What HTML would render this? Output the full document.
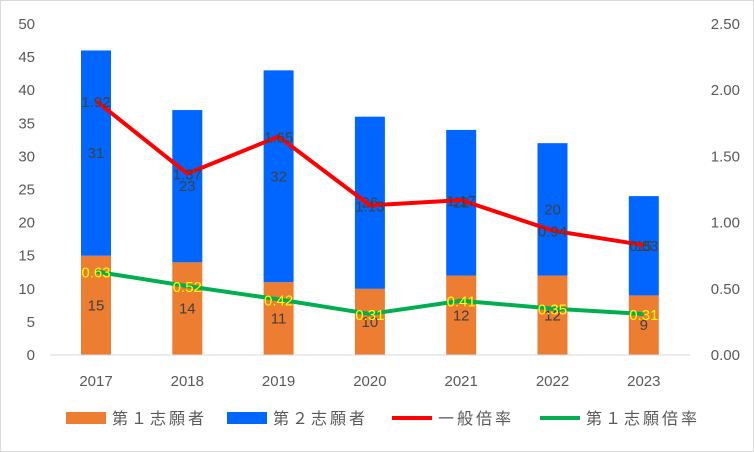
<!DOCTYPE html>
<html><head><meta charset="utf-8"><style>
body{margin:0;background:#fff}
svg{display:block;font-family:"Liberation Sans","Noto Sans CJK JP",sans-serif}
</style></head><body>
<svg id="chart" width="754" height="452">
<rect x="0.5" y="0.5" width="753" height="451" fill="#fff" stroke="#d9d9d9"/>
<g id="g"></g>
</svg>
<script>
const categories=["2017","2018","2019","2020","2021","2022","2023"];
const first=[15,14,11,10,12,12,9];
const second=[31,23,32,26,22,20,15];
const general=[1.92,1.37,1.65,1.13,1.17,0.94,0.83];
const firstRate=[0.63,0.52,0.42,0.31,0.41,0.35,0.31];
const leftTicks=[0,5,10,15,20,25,30,35,40,45,50];
const rightTicks=["0.00","0.50","1.00","1.50","2.00","2.50"];
const ns="http://www.w3.org/2000/svg",g=document.getElementById('g');
const y0=355,y1=24,x0=50,step=91.3;
const yL=v=>y0-(y0-y1)*v/50, yR=v=>y0-(y0-y1)*v/2.5, xC=i=>96+i*step;
function el(t,a,txt){const e=document.createElementNS(ns,t);for(const k in a)e.setAttribute(k,a[k]);if(txt!=null)e.textContent=txt;g.appendChild(e);return e;}
leftTicks.forEach(v=>{const e=el('text',{x:35,y:yL(v)+5,'text-anchor':'end','font-size':15,fill:'#595959'},v);

});
rightTicks.forEach(v=>{const e=el('text',{x:740,y:yR(+v)+5,'text-anchor':'end','font-size':15,fill:'#595959'},v);

});
categories.forEach((c,i)=>{
const x=xC(i),w=30;
const b1=el('rect',{x:x-w/2,y:yL(first[i]),width:w,height:y0-yL(first[i]),fill:'#ED7D31'});


const b2=el('rect',{x:x-w/2,y:yL(first[i]+second[i]),width:w,height:yL(first[i])-yL(first[i]+second[i]),fill:'#0066FF'});


const t1=el('text',{x:x,y:yL(first[i]/2)+5,'text-anchor':'middle','font-size':15,fill:'#404040'},first[i]);


const t2=el('text',{x:x,y:yL(first[i]+second[i]/2)+5,'text-anchor':'middle','font-size':15,fill:'#404040'},second[i]);


const tc=el('text',{x:x,y:386,'text-anchor':'middle','font-size':15,fill:'#595959'},c);


});
const ax=el('line',{x1:x0,x2:690,y1:y0,y2:y0,stroke:'#d9d9d9'});


const pl1=el('polyline',{points:general.map((v,i)=>xC(i)+','+yR(v)).join(' '),fill:'none',stroke:'#FF0000','stroke-width':4,'stroke-linejoin':'round'});


const pl2=el('polyline',{points:firstRate.map((v,i)=>xC(i)+','+yR(v)).join(' '),fill:'none',stroke:'#00B050','stroke-width':4,'stroke-linejoin':'round'});


general.forEach((v,i)=>{const e=el('text',{x:xC(i),y:yR(v)+6,'text-anchor':'middle','font-size':15,fill:'#404040'},v.toFixed(2));

});
firstRate.forEach((v,i)=>{const e=el('text',{x:xC(i),y:yR(v)+6,'text-anchor':'middle','font-size':15,fill:'#FFFF00'},v.toFixed(2));

});
const leg=[["rect","#ED7D31",66,"第１志願者"],["rect","#0066FF",227,"第２志願者"],["line","#FF0000",392,"一般倍率"],["line","#00B050",540,"第１志願倍率"]];
leg.forEach(l=>{
const m=l[0]=="rect"?el('rect',{x:l[2],y:412,width:40,height:12,fill:l[1]}):el('line',{x1:l[2],x2:l[2]+40,y1:418,y2:418,stroke:l[1],'stroke-width':4});


const t=el('text',{x:l[2]+46,y:424,'font-size':16,'letter-spacing':3,fill:'#595959'},l[3]);


});
</script>
</body></html>
